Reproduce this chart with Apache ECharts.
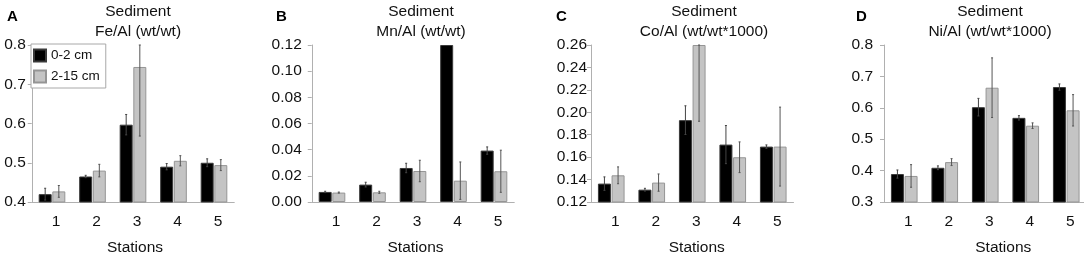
<!DOCTYPE html>
<html>
<head>
<meta charset="utf-8">
<script src="https://cdn.jsdelivr.net/npm/echarts@6/dist/echarts.min.js"></script>
<style>
  html, body { margin: 0; padding: 0; background: #fff; }
  #chart { width: 1084px; height: 258px; }
</style>
</head>
<body>
<div id="chart"></div>
<script>
// station labels shared by all four panels
const stations = ["1", "2", "3", "4", "5"];

// A: Fe/Al
const feTop = [0.420, 0.465, 0.597, 0.490, 0.500];
const feTopErr = [0.015, 0.003, 0.026, 0.008, 0.010];
const feDeep = [0.427, 0.480, 0.744, 0.505, 0.494];
const feDeepErr = [0.015, 0.016, 0.176, 0.013, 0.014];

// B: Mn/Al
const mnTop = [0.0077, 0.0133, 0.0260, 0.1200, 0.0393];
const mnTopErr = [0.0005, 0.0018, 0.0036, 0, 0.0028];
const mnDeep = [0.0072, 0.0074, 0.0237, 0.0163, 0.0235];
const mnDeepErr = [0.0004, 0.0008, 0.0082, 0.0143, 0.0161];

// C: Co/Al
const coTop = [0.1364, 0.1310, 0.1930, 0.1712, 0.1694];
const coTopErr = [0.0060, 0.0012, 0.0128, 0.0170, 0.0015];
const coDeep = [0.1438, 0.1373, 0.2600, 0.1599, 0.1694];
const coDeepErr = [0.0075, 0.0077, 0.0680, 0.0137, 0.0352];

// D: Ni/Al
const niTop = [0.389, 0.409, 0.602, 0.568, 0.666];
const niTopErr = [0.013, 0.006, 0.028, 0.007, 0.010];
const niDeep = [0.383, 0.427, 0.664, 0.543, 0.592];
const niDeepErr = [0.036, 0.011, 0.095, 0.009, 0.050];

const panels = [
  { letter: "A", title: "Sediment\nFe/Al (wt/wt)", top: feTop, topErr: feTopErr, deep: feDeep, deepErr: feDeepErr,
    min: 0.4, max: 0.8, interval: 0.1, digits: 1, left: 31.75, letterX: 2, titleX: 133, labelMargin: 6, namePad: 4 },
  { letter: "B", title: "Sediment\nMn/Al (wt/wt)", top: mnTop, topErr: mnTopErr, deep: mnDeep, deepErr: mnDeepErr,
    min: 0, max: 0.12, interval: 0.02, digits: 2, left: 311.75, letterX: 271, titleX: 416, labelMargin: 10, namePad: 5 },
  { letter: "C", title: "Sediment\nCo/Al (wt/wt*1000)", top: coTop, topErr: coTopErr, deep: coDeep, deepErr: coDeepErr,
    min: 0.12, max: 0.26, interval: 0.02, digits: 2, left: 591, letterX: 551, titleX: 699, labelMargin: 4, namePad: 9 },
  { letter: "D", title: "Sediment\nNi/Al (wt/wt*1000)", top: niTop, topErr: niTopErr, deep: niDeep, deepErr: niDeepErr,
    min: 0.3, max: 0.8, interval: 0.1, digits: 1, left: 884, letterX: 851, titleX: 985, labelMargin: 11, namePad: 36 }
];

const FONT = "Liberation Sans, Arial, sans-serif";
const FS = 15.5;
const BAR_W = 13;
const GAP = 0.65;

function errorBars(sign, color, min, max) {
  return function (params, api) {
    const i = api.value(0);
    const v = api.value(1);
    const e = api.value(2);
    if (!e) return null;
    const hi = api.coord([i, Math.min(v + e, max)]);
    const lo = api.coord([i, Math.max(v - e, min)]);
    const x = hi[0] + sign * (BAR_W / 2 + GAP / 2);
    const style = { stroke: color, lineWidth: 1 };
    return {
      type: "group",
      children: [
        { type: "line", shape: { x1: x, y1: hi[1], x2: x, y2: lo[1] }, style: style },
        { type: "line", shape: { x1: x - 1, y1: hi[1], x2: x + 1, y2: hi[1] }, style: style },
        { type: "line", shape: { x1: x - 1, y1: lo[1], x2: x + 1, y2: lo[1] }, style: style }
      ]
    };
  };
}

const grid = [], xAxis = [], yAxis = [], series = [], title = [];

panels.forEach((p, k) => {
  grid.push({ left: p.left, top: 45, width: 202.5, height: 157, outerBoundsMode: "none" });
  title.push({
    text: p.letter, left: p.letterX, top: 4,
    textStyle: { fontFamily: FONT, fontSize: 15, fontWeight: "bold", color: "#000" }
  });
  title.push({
    text: p.title, left: p.titleX, top: -3, textAlign: "center",
    textStyle: { fontFamily: FONT, fontSize: FS, fontWeight: "normal", color: "#111", lineHeight: 20 }
  });
  xAxis.push({
    type: "category", gridIndex: k, data: stations,
    axisLine: { lineStyle: { color: "#b0b0b0" } },
    axisTick: { show: false },
    axisLabel: { fontFamily: FONT, fontSize: FS, color: "#111", margin: 12, padding: [0, 0, 0, 8] },
    name: "Stations", nameLocation: "middle", nameGap: 38,
    nameTextStyle: { fontFamily: FONT, fontSize: FS, color: "#111", padding: [0, 0, 0, p.namePad] }
  });
  yAxis.push({
    type: "value", gridIndex: k, min: p.min, max: p.max, interval: p.interval,
    axisLine: { show: true, lineStyle: { color: "#b0b0b0" } },
    axisTick: { show: true, length: 4, lineStyle: { color: "#b0b0b0" } },
    splitLine: { show: false },
    axisLabel: {
      fontFamily: FONT, fontSize: FS, color: "#111", margin: p.labelMargin,
      formatter: (v) => v.toFixed(p.digits)
    }
  });
  series.push({
    name: "0-2 cm", type: "bar", xAxisIndex: k, yAxisIndex: k, data: p.top,
    barWidth: BAR_W, barGap: "5%",
    itemStyle: { color: "#000", borderColor: "#3a3a3a", borderWidth: 1 }
  });
  series.push({
    name: "2-15 cm", type: "bar", xAxisIndex: k, yAxisIndex: k, data: p.deep,
    barWidth: BAR_W, barGap: "5%",
    itemStyle: { color: "#c4c4c4", borderColor: "#959595", borderWidth: 1 }
  });
  series.push({
    type: "custom", xAxisIndex: k, yAxisIndex: k, z: 5,
    data: p.top.map((v, i) => [i, v, p.topErr[i]]),
    encode: { x: 0, y: 1 },
    renderItem: errorBars(-1, "#444", p.min, p.max)
  });
  series.push({
    type: "custom", xAxisIndex: k, yAxisIndex: k, z: 5,
    data: p.deep.map((v, i) => [i, v, p.deepErr[i]]),
    encode: { x: 0, y: 1 },
    renderItem: errorBars(1, "#555", p.min, p.max)
  });
});

const chart = echarts.init(document.getElementById("chart"), null, { renderer: "canvas" });
chart.setOption({
  animation: false,
  backgroundColor: "#fff",
  title: title,
  legend: {
    data: ["0-2 cm", "2-15 cm"], orient: "vertical", left: 31, top: 44,
    icon: "rect", itemWidth: 12, itemHeight: 12, itemGap: 6,
    padding: [4, 6, 4, 2],
    backgroundColor: "#fff", borderColor: "#a8a8a8", borderWidth: 1,
    textStyle: { fontFamily: FONT, fontSize: 13.5, color: "#111", lineHeight: 15 }
  },
  grid: grid,
  xAxis: xAxis,
  yAxis: yAxis,
  series: series
});
</script>
</body>
</html>
